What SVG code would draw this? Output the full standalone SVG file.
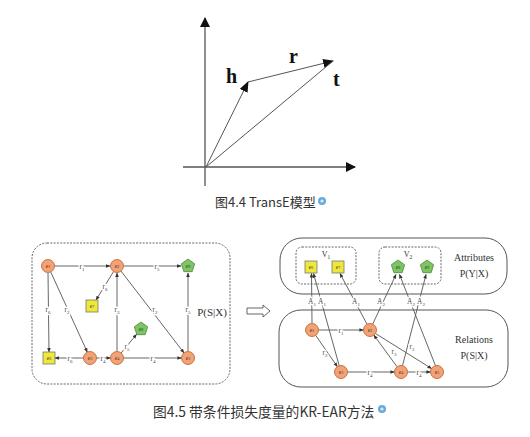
<svg xmlns="http://www.w3.org/2000/svg" xmlns:xlink="http://www.w3.org/1999/xlink" width="530" height="437" viewBox="0 0 530 437">
<style>
.ax{stroke:#555;stroke-width:1.3;fill:none}
.vec{stroke:#555;stroke-width:1;fill:none}
.big{font-family:"Liberation Serif",serif;font-weight:bold;font-size:20px;fill:#111}
.cap{font-family:"Noto Sans CJK SC","Liberation Sans",sans-serif;fill:#333}
.e{stroke:#555;stroke-width:0.9;fill:none}
.circ{fill:#f2a274;stroke:#b85a2a;stroke-width:0.8}
.sq{fill:#eee83a;stroke:#777;stroke-width:0.8}
.pent{fill:#7dc463;stroke:#4a8a3a;stroke-width:0.8}
.nl{font-family:"Liberation Serif",serif;font-size:5.5px;fill:#333;text-anchor:middle}
.el{font-family:"Liberation Serif",serif;font-size:7.5px;fill:#444;text-anchor:middle;stroke:#fff;stroke-width:2.5;paint-order:stroke}
.sub{font-size:5px}
.lab{font-family:"Liberation Serif",serif;fill:#333;text-anchor:middle}
.box{fill:none;stroke:#555;stroke-width:1}
.dbox{fill:none;stroke:#666;stroke-width:1;stroke-dasharray:2 1.3}
</style>
<defs>
<marker id="ah" viewBox="0 0 10 10" refX="9" refY="5" markerWidth="10" markerHeight="10" markerUnits="userSpaceOnUse" orient="auto">
<path d="M0,0 L10,5 L0,10 Z" fill="#111"/>
</marker>
<marker id="am" viewBox="0 0 10 10" refX="9" refY="5" markerWidth="11" markerHeight="11" markerUnits="userSpaceOnUse" orient="auto">
<path d="M0,1 L10,5 L0,9 Z" fill="#111"/>
</marker>
<marker id="sa" viewBox="0 0 10 10" refX="9" refY="5" markerWidth="4.5" markerHeight="4.5" markerUnits="userSpaceOnUse" orient="auto">
<path d="M0,1 L10,5 L0,9 Z" fill="#333"/>
</marker>
<polygon id="pg" points="0,-7 6.66,-2.16 4.11,5.66 -4.11,5.66 -6.66,-2.16"/>
</defs>

<!-- Figure 4.4 TransE -->
<g id="transe">
<line class="ax" x1="205" y1="186" x2="205" y2="18" marker-end="url(#ah)"/>
<line class="ax" x1="183" y1="167" x2="355" y2="167" marker-end="url(#ah)"/>
<line class="vec" x1="206" y1="167" x2="248" y2="82" marker-end="url(#am)"/>
<line class="vec" x1="248" y1="82" x2="333" y2="61" marker-end="url(#am)"/>
<line class="vec" x1="206" y1="167" x2="333" y2="61"/>
<text class="big" x="226" y="83">h</text>
<text class="big" x="289" y="63">r</text>
<text class="big" x="333" y="86">t</text>
<text class="cap" x="215" y="207" style="font-size:13px">图4.4 TransE模型</text>
<circle cx="322" cy="201" r="4" fill="#6aaad8"/>
<circle cx="322" cy="201" r="1.6" fill="#d8ecf8"/>
</g>

<!-- Figure 4.5 left: P(S|X) -->
<rect class="dbox" x="32" y="243" width="198" height="141" rx="15"/>
<text class="lab" x="212" y="316" style="font-size:11px">P(S|X)</text>
<path d="M247,308 L263,308 L263,305 L270,311 L263,317 L263,314 L247,314 Z" fill="none" stroke="#555" stroke-width="0.9"/>

<g id="left-edges">
<line class="e" x1="55" y1="266" x2="110" y2="266" marker-end="url(#sa)"/>
<line class="e" x1="124" y1="266" x2="181" y2="266" marker-end="url(#sa)"/>
<line class="e" x1="113.6" y1="271.5" x2="96" y2="300" marker-end="url(#sa)"/>
<line class="e" x1="48" y1="273" x2="49" y2="352" marker-end="url(#sa)"/>
<line class="e" x1="50.7" y1="271.9" x2="87.3" y2="352.1" marker-end="url(#sa)"/>
<line class="e" x1="117" y1="351" x2="117" y2="273" marker-end="url(#sa)"/>
<line class="e" x1="121" y1="271.1" x2="184" y2="352.9" marker-end="url(#sa)"/>
<line class="e" x1="188" y1="351" x2="188" y2="273" marker-end="url(#sa)"/>
<line class="e" x1="121.1" y1="353" x2="136.5" y2="334.4" marker-end="url(#sa)"/>
<line class="e" x1="83.5" y1="358" x2="55" y2="358" marker-end="url(#sa)"/>
<line class="e" x1="96.5" y1="358" x2="110.5" y2="358" marker-end="url(#sa)"/>
<line class="e" x1="123.5" y1="358" x2="181.5" y2="358" marker-end="url(#sa)"/>
<text class="el" x="82" y="269">r<tspan class="sub" dy="1.5">1</tspan></text>
<text class="el" x="157" y="269">r<tspan class="sub" dy="1.5">5</tspan></text>
<text class="el" x="105" y="289">r<tspan class="sub" dy="1.5">6</tspan></text>
<text class="el" x="48" y="312">r<tspan class="sub" dy="1.5">6</tspan></text>
<text class="el" x="67" y="312">r<tspan class="sub" dy="1.5">2</tspan></text>
<text class="el" x="117" y="312">r<tspan class="sub" dy="1.5">3</tspan></text>
<text class="el" x="155" y="312">r<tspan class="sub" dy="1.5">2</tspan></text>
<text class="el" x="188" y="312">r<tspan class="sub" dy="1.5">5</tspan></text>
<text class="el" x="127" y="349">r<tspan class="sub" dy="1.5">5</tspan></text>
<text class="el" x="70" y="361">r<tspan class="sub" dy="1.5">6</tspan></text>
<text class="el" x="103" y="361">r<tspan class="sub" dy="1.5">4</tspan></text>
<text class="el" x="153" y="361">r<tspan class="sub" dy="1.5">4</tspan></text>
</g>

<g id="L-e1"><circle class="circ" cx="48" cy="266" r="6.5"/><text class="nl" x="48" y="268">e<tspan font-size="4">1</tspan></text></g>
<g id="L-e2"><circle class="circ" cx="117" cy="266" r="6.5"/><text class="nl" x="117" y="268">e<tspan font-size="4">2</tspan></text></g>
<g id="L-e9"><use href="#pg" xlink:href="#pg" class="pent" x="188" y="266"/><text class="nl" x="188" y="268">e<tspan font-size="4">9</tspan></text></g>
<g id="L-e7"><rect class="sq" x="86" y="300" width="12" height="12"/><text class="nl" x="92" y="308">e<tspan font-size="4">7</tspan></text></g>
<g id="L-e8"><use href="#pg" xlink:href="#pg" class="pent" x="141" y="329"/><text class="nl" x="141" y="331">e<tspan font-size="4">8</tspan></text></g>
<g id="L-e6"><rect class="sq" x="43" y="352" width="12" height="12"/><text class="nl" x="49" y="360">e<tspan font-size="4">6</tspan></text></g>
<g id="L-e3"><circle class="circ" cx="90" cy="358" r="6.5"/><text class="nl" x="90" y="360">e<tspan font-size="4">3</tspan></text></g>
<g id="L-e4"><circle class="circ" cx="117" cy="358" r="6.5"/><text class="nl" x="117" y="360">e<tspan font-size="4">4</tspan></text></g>
<g id="L-e5"><circle class="circ" cx="188" cy="358" r="6.5"/><text class="nl" x="188" y="360">e<tspan font-size="4">5</tspan></text></g>

<!-- Figure 4.5 right -->
<rect class="box" x="280" y="238" width="227" height="56" rx="22"/>
<rect class="box" x="279" y="310" width="229" height="77" rx="22"/>
<rect class="dbox" x="296" y="247" width="60" height="37" rx="6"/>
<rect class="dbox" x="379" y="247" width="62" height="37" rx="6"/>
<text class="lab" x="326" y="257" style="font-size:8px">V<tspan style="font-size:5.5px" dy="1.5">1</tspan></text>
<text class="lab" x="408" y="257" style="font-size:8px">V<tspan style="font-size:5.5px" dy="1.5">2</tspan></text>
<text class="lab" x="474" y="261" style="font-size:10px">Attributes</text>
<text class="lab" x="474" y="277" style="font-size:10px">P(Y|X)</text>
<text class="lab" x="474" y="343" style="font-size:10px">Relations</text>
<text class="lab" x="474" y="359" style="font-size:10px">P(S|X)</text>

<g id="right-edges">
<line class="e" x1="312" y1="323.5" x2="311.5" y2="273.5" marker-end="url(#sa)"/>
<line class="e" x1="339.2" y1="365.7" x2="313.5" y2="273.5" marker-end="url(#sa)"/>
<line class="e" x1="367" y1="324.2" x2="340" y2="273.5" marker-end="url(#sa)"/>
<line class="e" x1="372.7" y1="324.1" x2="396" y2="274.5" marker-end="url(#sa)"/>
<line class="e" x1="402.5" y1="365.7" x2="426" y2="274.5" marker-end="url(#sa)"/>
<line class="e" x1="435.5" y1="365.7" x2="399.5" y2="274.5" marker-end="url(#sa)"/>
<line class="e" x1="318.5" y1="330" x2="363.5" y2="330" marker-end="url(#sa)"/>
<line class="e" x1="315.7" y1="335.4" x2="337.3" y2="366.6" marker-end="url(#sa)"/>
<line class="e" x1="347.5" y1="372" x2="394.5" y2="372" marker-end="url(#sa)"/>
<line class="e" x1="397.1" y1="366.8" x2="373.9" y2="335.2" marker-end="url(#sa)"/>
<line class="e" x1="375.5" y1="333.5" x2="431.5" y2="368.5" marker-end="url(#sa)"/>
<line class="e" x1="407.5" y1="372" x2="430.5" y2="372" marker-end="url(#sa)"/>
<text class="el" x="312" y="304">A<tspan class="sub" dy="1.5">1</tspan></text>
<text class="el" x="322" y="304">A<tspan class="sub" dy="1.5">1</tspan></text>
<text class="el" x="356" y="304">A<tspan class="sub" dy="1.5">1</tspan></text>
<text class="el" x="381" y="304">A<tspan class="sub" dy="1.5">2</tspan></text>
<text class="el" x="411" y="304">A<tspan class="sub" dy="1.5">2</tspan></text>
<text class="el" x="421" y="304">A<tspan class="sub" dy="1.5">2</tspan></text>
<text class="el" x="341" y="333">r<tspan class="sub" dy="1.5">1</tspan></text>
<text class="el" x="325" y="355">r<tspan class="sub" dy="1.5">2</tspan></text>
<text class="el" x="370" y="375">r<tspan class="sub" dy="1.5">4</tspan></text>
<text class="el" x="394" y="354">r<tspan class="sub" dy="1.5">3</tspan></text>
<text class="el" x="412" y="349">r<tspan class="sub" dy="1.5">2</tspan></text>
<text class="el" x="419" y="375">r<tspan class="sub" dy="1.5">4</tspan></text>
</g>

<g id="R-e6"><rect class="sq" x="305" y="261" width="12" height="12"/><text class="nl" x="311" y="269">e<tspan font-size="4">6</tspan></text></g>
<g id="R-e7"><rect class="sq" x="332" y="261" width="12" height="12"/><text class="nl" x="338" y="269">e<tspan font-size="4">7</tspan></text></g>
<g id="R-e8"><use href="#pg" xlink:href="#pg" class="pent" x="398" y="267"/><text class="nl" x="398" y="269">e<tspan font-size="4">8</tspan></text></g>
<g id="R-e9"><use href="#pg" xlink:href="#pg" class="pent" x="427" y="267"/><text class="nl" x="427" y="269">e<tspan font-size="4">9</tspan></text></g>
<g id="R-e1"><circle class="circ" cx="312" cy="330" r="6.5"/><text class="nl" x="312" y="332">e<tspan font-size="4">1</tspan></text></g>
<g id="R-e2"><circle class="circ" cx="370" cy="330" r="6.5"/><text class="nl" x="370" y="332">e<tspan font-size="4">2</tspan></text></g>
<g id="R-e3"><circle class="circ" cx="341" cy="372" r="6.5"/><text class="nl" x="341" y="374">e<tspan font-size="4">3</tspan></text></g>
<g id="R-e4"><circle class="circ" cx="401" cy="372" r="6.5"/><text class="nl" x="401" y="374">e<tspan font-size="4">4</tspan></text></g>
<g id="R-e5"><circle class="circ" cx="437" cy="372" r="6.5"/><text class="nl" x="437" y="374">e<tspan font-size="4">5</tspan></text></g>

<g id="caption2">
<text class="cap" x="153" y="417" style="font-size:13.8px">图4.5 带条件损失度量的KR-EAR方法</text>
<circle cx="382" cy="409" r="4" fill="#6aaad8"/>
<circle cx="382" cy="409" r="1.6" fill="#d8ecf8"/>
</g>
</svg>
